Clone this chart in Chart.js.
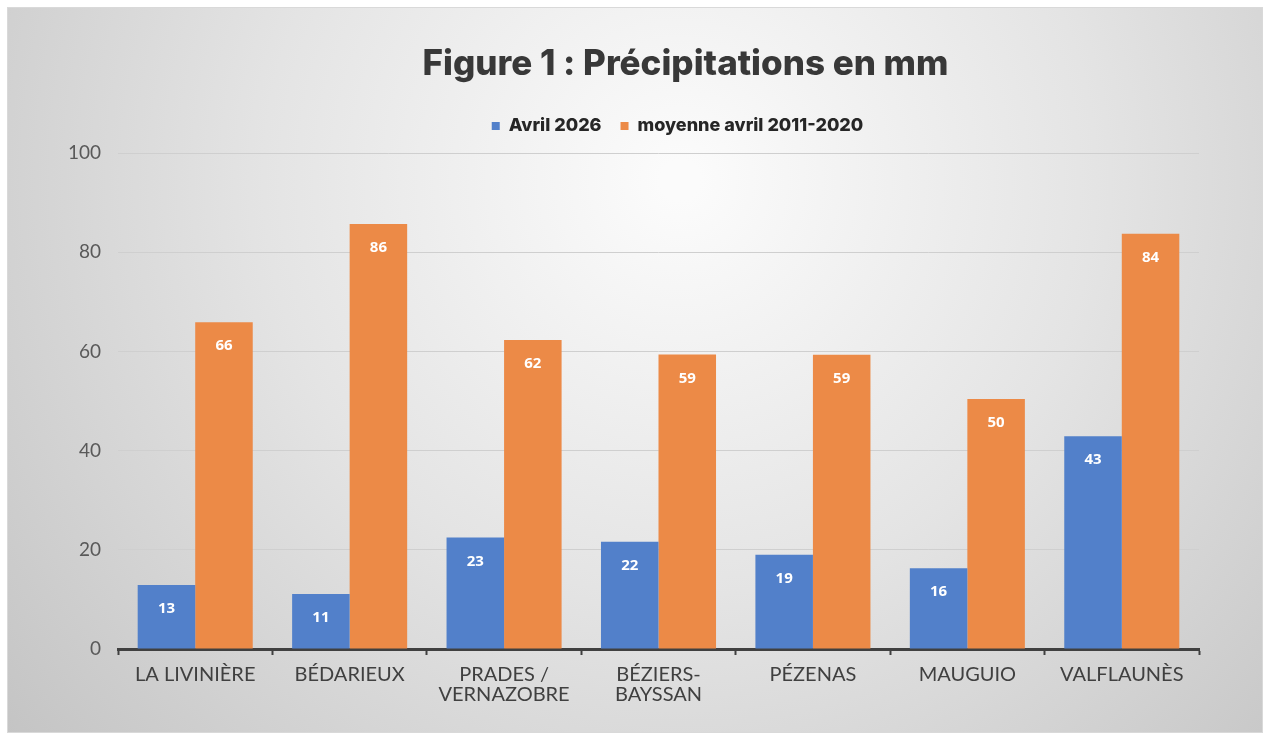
<!DOCTYPE html>
<html lang="fr">
<head>
<meta charset="utf-8">
<title>Précipitations en mm</title>
<script src="https://cdn.jsdelivr.net/npm/chart.js@4.4.1/dist/chart.umd.min.js"></script>
<style>
  html, body { margin: 0; padding: 0; background: #fff; }
  #wrap { position: relative; width: 1270px; height: 740px; }
</style>
</head>
<body>
<div id="wrap"><canvas id="rainChart"></canvas></div>
<script>
// --- data ---
const stations = [
  'LA LIVINIÈRE',
  'BÉDARIEUX',
  ['PRADES /', 'VERNAZOBRE'],
  ['BÉZIERS-', 'BAYSSAN'],
  'PÉZENAS',
  'MAUGUIO',
  'VALFLAUNÈS',
];
const avril2026    = [12.9, 11.1, 22.5, 21.6, 19.0, 16.3, 42.9];
const moyenneAvril = [65.9, 85.7, 62.3, 59.4, 59.3, 50.4, 83.7];
const seriesNames = ['Avril 2026', 'moyenne avril 2011-2020'];
const yTicks = [0, 20, 40, 60, 80, 100];

const BLUE   = '#5280CA';
const ORANGE = '#EC8A47';
const DARK   = '#404040';

// framed panel with a soft radial shade, like the office chart
const panelBg = {
  id: 'panelBg',
  beforeDraw(chart) {
    const { ctx, width, height } = chart;
    ctx.save();
    ctx.fillStyle = '#ffffff';
    ctx.fillRect(0, 0, width, height);
    const g = ctx.createRadialGradient(680, 180, 20, 680, 180, 900);
    g.addColorStop(0, '#fbfbfb');
    g.addColorStop(0.45, '#e4e4e4');
    g.addColorStop(1, '#c2c2c2');
    ctx.fillStyle = g;
    ctx.fillRect(7, 7, width - 14, height - 14);
    ctx.strokeStyle = '#d9d9d9';
    ctx.lineWidth = 1;
    ctx.strokeRect(7.5, 7.5, width - 15, height - 15);
    ctx.restore();
  },
};

// move title + legend (they sit off-centre and higher in the source)
const shiftHeader = {
  id: 'shiftHeader',
  afterLayout(chart) {
    const moves = [[chart.titleBlock, 76, -5], [chart.legend, 68, -8]];
    moves.forEach(([b, dx, dy]) => {
      if (!b) return;
      b.left += dx; b.right += dx;
      b.top += dy; b.bottom += dy;
    });
  },
};

// white value labels inside the top of every bar
const barValues = {
  id: 'barValues',
  afterDatasetsDraw(chart) {
    const { ctx } = chart;
    ctx.save();
    ctx.fillStyle = '#ffffff';
    ctx.font = 'bold 15px "Open Sans", sans-serif';
    ctx.textAlign = 'center';
    ctx.textBaseline = 'middle';
    chart.data.datasets.forEach((ds, i) => {
      chart.getDatasetMeta(i).data.forEach((bar, j) => {
        ctx.fillText(Math.round(ds.data[j]), bar.x, bar.y + 24);
      });
    });
    ctx.restore();
  },
};

new Chart(document.getElementById('rainChart'), {
  type: 'bar',
  data: {
    labels: stations,
    datasets: [
      { label: seriesNames[0], data: avril2026,    backgroundColor: BLUE,   borderWidth: 0 },
      { label: seriesNames[1], data: moyenneAvril, backgroundColor: ORANGE, borderWidth: 0 },
    ],
  },
  options: {
    responsive: true, maintainAspectRatio: false,
    animation: false,
    datasets: { bar: { categoryPercentage: 0.745, barPercentage: 1.0 } },
    layout: { padding: { top: 14, left: 20, right: 71, bottom: 11 } },
    plugins: {
      title: {
        display: true,
        text: 'Figure 1 : Précipitations en mm',
        color: '#383838',
        font: { family: 'Inter, "Open Sans", sans-serif', size: 35, weight: 800 },
        padding: { top: 34, bottom: 16 },
      },
      legend: {
        display: true,
        labels: {
          color: '#262626',
          font: { family: 'Inter, "Open Sans", sans-serif', size: 18, weight: 800 },
          boxWidth: 8, boxHeight: 8, padding: 19,
        },
      },
      tooltip: { enabled: false },
    },
    scales: {
      x: {
        afterFit: s => { s.height = 80; },
        border: { color: DARK, width: 3 },
        grid: { drawOnChartArea: false, drawTicks: true, tickLength: 6, tickColor: DARK, tickWidth: 2, offset: true },
        ticks: {
          color: DARK, padding: 9, autoSkip: false, maxRotation: 0,
          font: { family: 'Lato, sans-serif', size: 20, lineHeight: 1.02 },
        },
      },
      y: {
        min: 0, max: 100,
        afterFit: s => { s.width = 98; },
        afterBuildTicks: s => { s.ticks = yTicks.map(v => ({ value: v })); },
        border: { display: false },
        grid: { color: '#cfcfcf', lineWidth: 1, drawTicks: false },
        ticks: {
          color: '#595959', padding: 17,
          font: { family: 'Lato, sans-serif', size: 19 },
        },
      },
    },
  },
  plugins: [panelBg, shiftHeader, barValues],
});
</script>
</body>
</html>
